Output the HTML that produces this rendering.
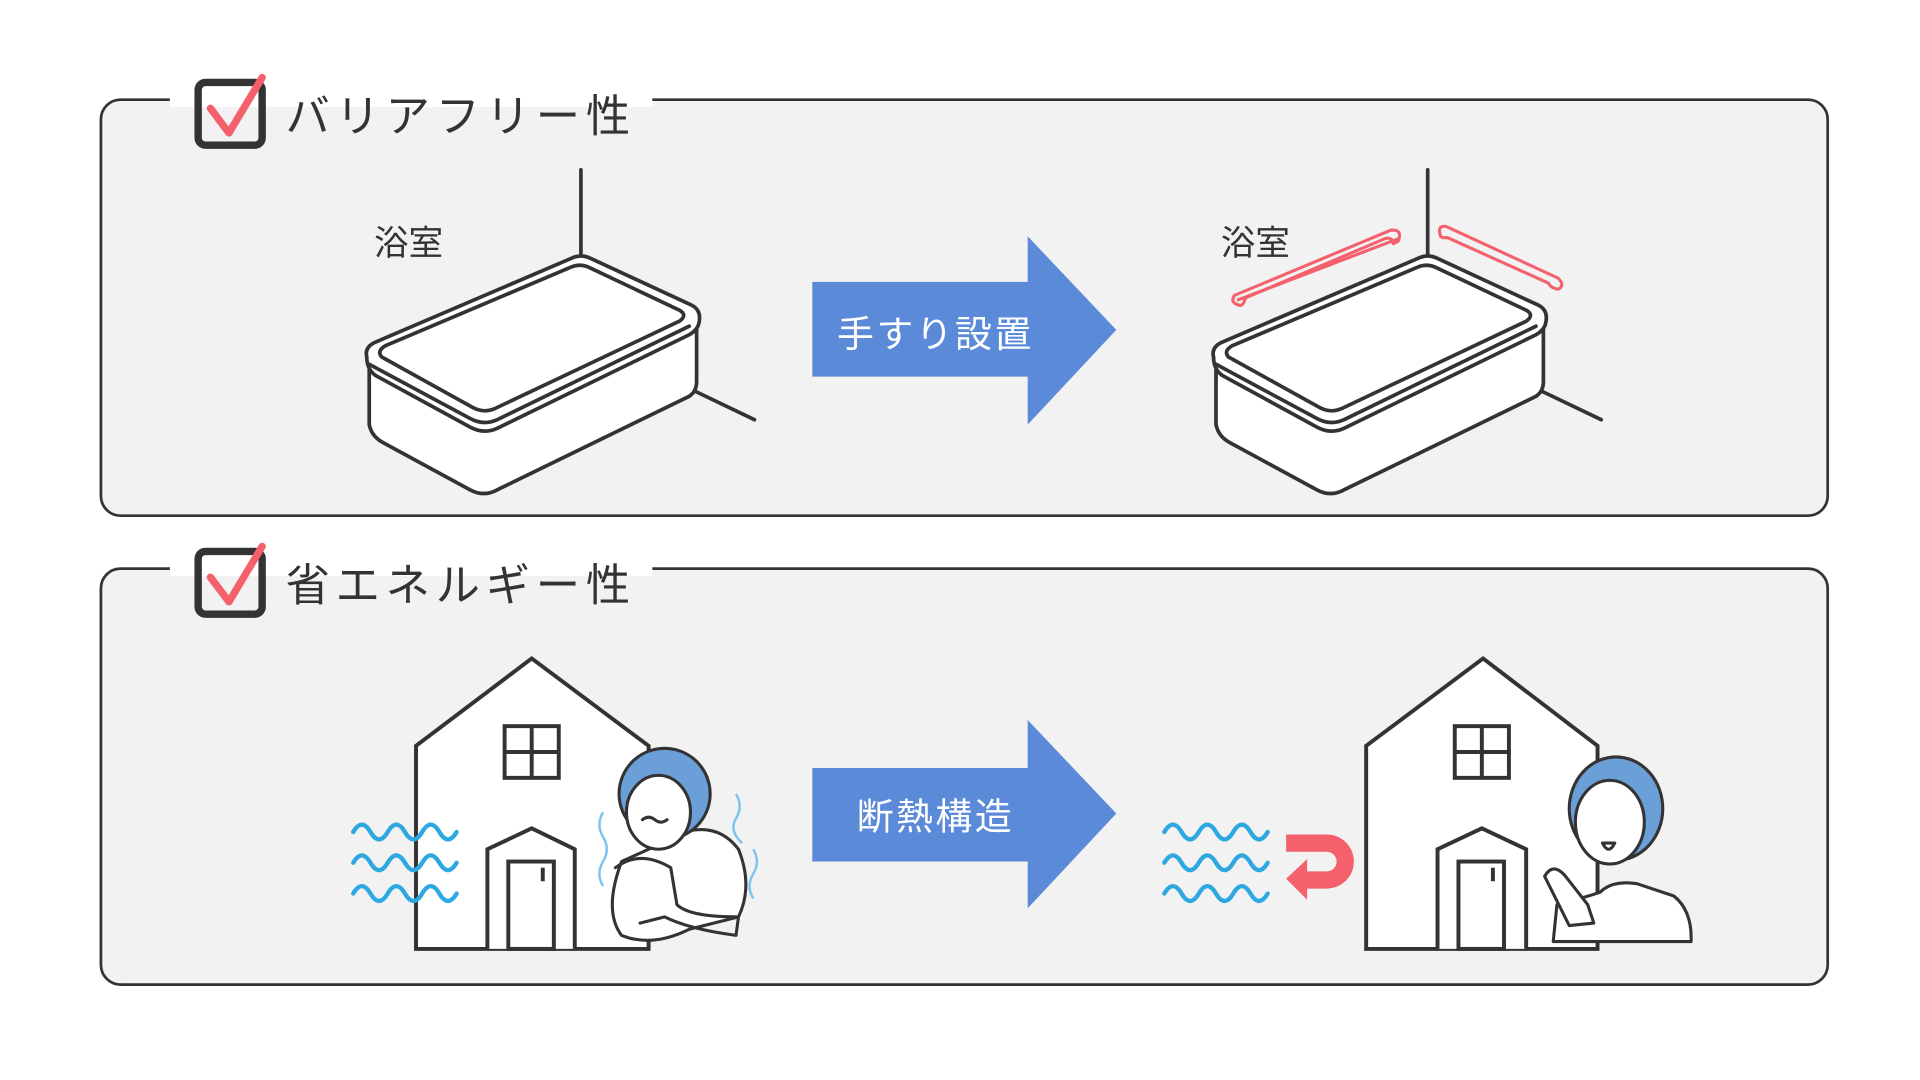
<!DOCTYPE html>
<html><head><meta charset="utf-8"><style>
html,body{margin:0;padding:0;background:#fff;width:1920px;height:1080px;overflow:hidden}
svg{display:block}
text{font-family:"Liberation Sans","Noto Sans CJK JP",sans-serif}
</style></head><body>
<svg width="1920" height="1080" viewBox="0 0 1560 877.5" xmlns="http://www.w3.org/2000/svg">
<rect width="1560" height="877.5" fill="#fff"/>
<g fill="#f2f2f2" stroke="#333" stroke-width="2.2">
<rect x="82" y="81" width="1403" height="338" rx="16"/>
<rect x="82" y="462" width="1403" height="338" rx="16"/>
</g>
<rect x="138" y="60" width="392" height="27" fill="#fff"/>
<rect x="138" y="441" width="392" height="27" fill="#fff"/>
<g fill="none" stroke-linecap="round" stroke-linejoin="round">
<rect x="161" y="67" width="52" height="51" rx="6" stroke="#333" stroke-width="6"/>
<path d="M171 88 L186 108 L213 63" stroke="#f4606c" stroke-width="6"/>
<rect x="161" y="448" width="52" height="51" rx="6" stroke="#333" stroke-width="6"/>
<path d="M171 469 L186 489 L213 444" stroke="#f4606c" stroke-width="6"/>
</g>
<text x="232" y="107" font-size="36" fill="#333" textLength="280" lengthAdjust="spacing">バリアフリー性</text>
<text x="232" y="488" font-size="36" fill="#333" textLength="280" lengthAdjust="spacing">省エネルギー性</text>
<path d="M660 229 H835 V192 L907 268 L835 345 V306 H660 Z" fill="#5b8ad8"/>
<path d="M660 624 H835 V585 L907 661 L835 738 V700 H660 Z" fill="#5b8ad8"/>
<text x="760" y="282" font-size="30" fill="#fff" text-anchor="middle" letter-spacing="2">手すり設置</text>
<text x="760" y="674" font-size="30" fill="#fff" text-anchor="middle" letter-spacing="2">断熱構造</text>
<text x="304" y="207" font-size="28" fill="#333">浴室</text>
<text x="992" y="207" font-size="28" fill="#333">浴室</text>
<g id="tub" fill="none" stroke="#333" stroke-width="3" stroke-linejoin="round" stroke-linecap="round">
<line x1="472" y1="138" x2="472" y2="210"/>
<line x1="565" y1="318" x2="613" y2="341"/>
<path d="M300 298 V345 Q302 355 312 360 L382 398 Q393 404 404 398 L560 322 Q566 318 566 310 V262" fill="#fff"/>
<path d="M298 290 Q296 282 305 278 L464 210 Q472 206 480 210 L562 248 Q570 252 568 262 Q567 268 560 272 L404 348 Q393 353 382 347 L305 305 Q298 300 298 290 Z" fill="#fff"/>
<path d="M300 296 L382 340 Q393 346 404 341 L560 265"/>
<path d="M310 290 Q306 285 313 281 L464 217 Q471 214 478 217 L552 252 Q559 256 552 261 L402 332 Q393 336 384 331 Z"/>
</g>
<use href="#tub" x="688" y="0"/>
<g fill="none" stroke="#f4606c" stroke-width="2.5" stroke-linejoin="round">
<path d="M1003 240 L1130 187 Q1140 186 1136 196 L1132 198 Q1131 192 1125 194 L1012 242 Q1010 249 1007 248 Q999 246 1003 240 Z"/>
<path d="M1005 244 L1136 194"/>
<path d="M1175 184 L1266 226 Q1272 232 1266 235 Q1260 234 1258 230 L1176 193 Q1170 194 1170 190 Q1168 183 1175 184 Z"/>
</g>
<g fill="#fff" stroke="#333" stroke-width="3.2" stroke-linejoin="miter">
<path d="M338 771 V606 L432 535 L527 606 V771 Z"/>
<rect x="410" y="590" width="44" height="42" fill="none"/>
<path d="M432 590 V632 M410 611 H454" fill="none"/>
<path d="M396 771 V690 L432 673 L467 690 V771"/>
<rect x="413" y="700" width="37" height="71"/>
<line x1="441" y1="705" x2="441" y2="716"/>
<path d="M1110 771 V606 L1205 535 L1298 606 V771 Z"/>
<rect x="1182" y="590" width="44" height="42" fill="none"/>
<path d="M1204 590 V632 M1182 611 H1226" fill="none"/>
<path d="M1168 771 V690 L1204 673 L1240 690 V771"/>
<rect x="1185" y="700" width="37" height="71"/>
<line x1="1213" y1="705" x2="1213" y2="716"/>
</g>
<g fill="none" stroke="#2ea8e0" stroke-width="3.5" stroke-linecap="round">
<path id="w" d="M287 676 q7 -12 14 0 t14 0 t14 0 t14 0 t14 0 t14 0"/>
<use href="#w" y="25"/><use href="#w" y="50"/>
<use href="#w" x="659"/><use href="#w" x="659" y="25"/><use href="#w" x="659" y="50"/>
</g>
<path d="M1045 678 H1078 A22 22 0 0 1 1078 722 H1062 V731 L1045 714 L1062 698 V708 H1078 A8 8 0 0 0 1078 692 H1045 Z" fill="#f4606c"/>
<g stroke="#333" stroke-width="2.5" stroke-linejoin="round" stroke-linecap="round">
<path d="M505 700 Q490 740 505 760 Q530 770 560 755 L600 745 Q612 720 600 690 Q585 670 560 675 Z" fill="#fff"/>
<circle cx="540" cy="645" r="37" fill="#6b9fd8"/>
<ellipse cx="535" cy="660" rx="26" ry="30" fill="#fff"/>
<path d="M500 705 Q520 690 545 705 L550 735 Q560 745 600 745 L598 760 Q560 755 540 745 L520 750" fill="none"/>
<path d="M522 666 q5 -4 10 0 q5 4 10 0" fill="none"/>
</g>
<g fill="none" stroke="#7cc4ef" stroke-width="2"><path d="M490 660 q-6 10 0 20 q6 10 0 20 q-6 10 0 20"/><path d="M598 645 q6 10 0 20 q-6 10 5 20"/><path d="M612 690 q6 10 0 20 q-6 10 0 20"/></g>
<g stroke="#333" stroke-width="2.5" stroke-linejoin="round" stroke-linecap="round">
<path d="M1262 765 L1265 735 Q1285 730 1300 725 Q1310 715 1330 718 L1360 728 Q1375 740 1374 765 Z" fill="#fff"/>
<ellipse cx="1313" cy="657" rx="38" ry="42" fill="#6b9fd8"/>
<ellipse cx="1308" cy="668" rx="28" ry="34" fill="#fff"/>
<path d="M1302 685 q5 10 10 0 z" fill="#fff"/>
<path d="M1255 712 Q1262 700 1272 712 L1290 735 L1295 750 L1275 752 Z" fill="#fff"/>
</g>
</svg>
</body></html>
